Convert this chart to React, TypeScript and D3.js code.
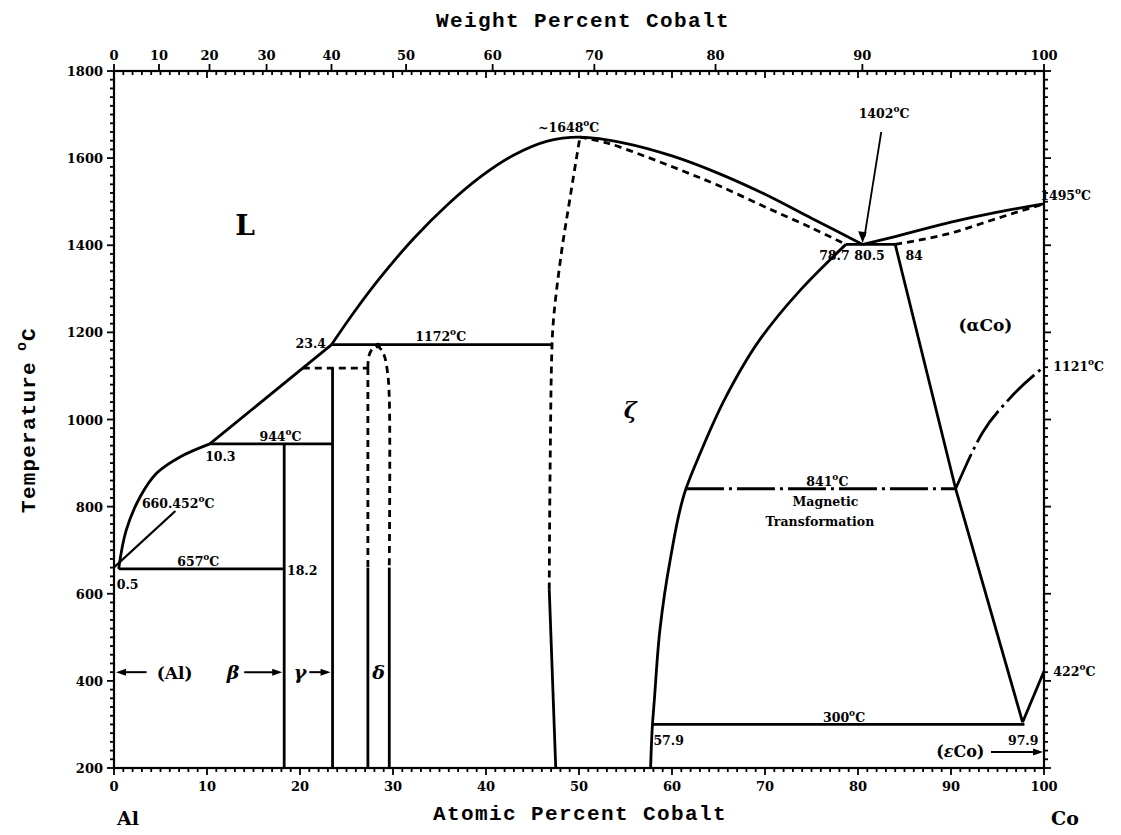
import React from "react";
import * as d3 from "d3";

// Al–Co phase diagram: temperature (°C) vs. atomic percent cobalt
type Pt = [number, number];

const atTicks = [0, 10, 20, 30, 40, 50, 60, 70, 80, 90, 100];
const wtTicks = [0, 10, 20, 30, 40, 50, 60, 70, 80, 90, 100];
const tempTicks = [200, 400, 600, 800, 1000, 1200, 1400, 1600, 1800];

// liquidus, Al-rich side
const liquidusAl: Pt[] = [[0.5, 657], [1.3, 745], [2.8, 822], [4.6, 877], [7.1, 914], [10.3, 944]];
const liquidusMid: Pt[] = [[10.3, 944], [23.4, 1172]];
// liquidus over the ζ (AlCo) maximum
const liquidusZeta: Pt[] = [[23.4, 1172], [25.9, 1249], [28.6, 1325], [32.2, 1415], [35.8, 1492], [39.4, 1557], [42.9, 1606], [46.6, 1639], [50.1, 1648], [55, 1634], [60, 1605], [65, 1565], [70, 1517], [75, 1462], [80.5, 1402]];
const solidusZetaRight: Pt[] = [[50.1, 1648], [53, 1635], [57, 1605], [61, 1572], [65, 1537], [70, 1488], [75, 1440], [78.7, 1402]];
const liquidusCo: Pt[] = [[80.5, 1402], [84, 1420], [90, 1453], [95, 1476], [100, 1495]];
const solidusCo: Pt[] = [[84, 1402], [90, 1428], [95, 1462], [100, 1495]];

// ζ (AlCo) phase boundaries
const zetaLeftDashed: Pt[] = [[50.1, 1648], [49.0, 1504], [48.0, 1366], [47.1, 1172], [46.9, 900], [46.8, 610]];
const zetaLeftSolid: Pt[] = [[46.8, 610], [47.5, 200]];
const zetaRight: Pt[] = [[78.7, 1402], [73.8, 1297], [69.5, 1185], [65.7, 1048], [63.0, 921], [61.5, 841], [59.8, 677], [58.7, 517], [58.1, 356], [57.9, 300], [57.7, 200]];

// (αCo) / (εCo) boundaries and Curie line
const alphaCoBoundary: Pt[] = [[84, 1402], [90.5, 841], [97.7, 305]];
const epsilonBoundary: Pt[] = [[97.7, 305], [100, 422]];
const curieLine: Pt[] = [[90.5, 841], [93.4, 970], [96.3, 1048], [100, 1121]];

// δ phase dome
const deltaDome: Pt[] = [[27.3, 1118], [27.4, 1145], [27.8, 1162], [28.4, 1167], [29.0, 1150], [29.4, 1110], [29.6, 1050], [29.6, 660]];
const deltaLeftDashed: Pt[] = [[27.3, 1118], [27.3, 660]];

// isotherms [xStart, xEnd, T]
const solidIsotherms: [number, number, number][] = [
  [0.5, 18.3, 657],
  [10.3, 23.5, 944],
  [23.4, 47.1, 1172],
  [78.7, 84, 1402],
  [57.9, 97.9, 300],
];
const dashedIsotherms: [number, number, number][] = [[20.3, 27.3, 1118]];
const magneticIsotherm: [number, number, number][] = [[61.5, 90.5, 841]];

// compound lines [x, Ttop, Tbottom]
const verticals: [number, number, number][] = [
  [18.3, 944, 200],
  [23.5, 1118, 200],
  [27.3, 660, 200],
  [29.6, 660, 200],
];

// temperature labels with degree mark [value, x, T, anchor]
const degLabels: [string, number, number, string][] = [
  ["944", 17.9, 950, "middle"],
  ["660.452", 3.0, 797, "start"],
  ["657", 6.8, 664, "start"],
  ["1172", 32.4, 1181, "start"],
  ["~1648", 45.6, 1660, "start"],
  ["1402", 82.8, 1692, "middle"],
  ["1495", 99.6, 1504, "start"],
  ["1121", 101.0, 1111, "start"],
  ["422", 101.0, 411, "start"],
  ["841", 76.7, 847, "middle"],
  ["300", 78.5, 305, "middle"],
];

// composition labels [text, x, T, anchor]
const compLabels: [string, number, number, string][] = [
  ["10.3", 9.8, 904, "start"],
  ["0.5", 0.3, 611, "start"],
  ["18.2", 18.6, 643, "start"],
  ["23.4", 22.8, 1163, "end"],
  ["78.7", 79.1, 1366, "end"],
  ["80.5", 79.6, 1366, "start"],
  ["84", 85.1, 1366, "start"],
  ["57.9", 58.0, 252, "start"],
  ["97.9", 99.4, 252, "end"],
];

const W = 1121;
const H = 835;
const x = d3.scaleLinear().domain([0, 100]).range([114, 1044]);
const y = d3.scaleLinear().domain([200, 1800]).range([768, 71]);

const AL = 26.982;
const CO = 58.933;
const wtToAt = (w: number) => {
  if (w <= 0) return 0;
  if (w >= 100) return 100;
  const a = w / CO;
  const b = (100 - w) / AL;
  return (100 * a) / (a + b);
};

const lineWith = (curve: d3.CurveFactory) =>
  d3
    .line<Pt>()
    .x((d) => x(d[0]))
    .y((d) => y(d[1]))
    .curve(curve);
const smoothX = lineWith(d3.curveMonotoneX);
const smoothY = lineWith(d3.curveMonotoneY);
const smooth = lineWith(d3.curveCatmullRom.alpha(0.5));
const straight = lineWith(d3.curveLinear);

const numFont = "'DejaVu Serif', serif";
const titleFont = "'Liberation Mono', 'DejaVu Sans Mono', monospace";
const LW = 2.8;
const DASH = "7,5";
const DASHDOT = "38,5,3,5";

function Deg({ v, px, py, anchor }: { v: string; px: number; py: number; anchor: string }) {
  return (
    <text x={px} y={py} textAnchor={anchor as any} fontFamily={numFont} fontWeight="bold" fontSize={12.5}>
      {v}
      <tspan dy={-6} fontSize={9}>o</tspan>
      <tspan dy={6}>C</tspan>
    </text>
  );
}

function Arrow({ x1, x2, py }: { x1: number; x2: number; py: number }) {
  // arrowhead at x2
  const dir = x2 > x1 ? 1 : -1;
  return (
    <g>
      <line x1={x1} y1={py} x2={x2 - dir * 6} y2={py} stroke="#000" strokeWidth={2} />
      <path d={`M${x2},${py} L${x2 - dir * 10},${py - 3.5} L${x2 - dir * 10},${py + 3.5} Z`} fill="#000" />
    </g>
  );
}

export default function App() {
  const xMinor = d3.range(0, 101, 1);
  const tMinor = d3.range(200, 1801, 20);
  const x0 = x(0);
  const x1 = x(100);
  const yTop = y(1800);
  const yBot = y(200);
  const arrowY = y(420);

  // ζ right boundary and dashed ζ left boundary run downward: order by temperature
  const zetaRightAsc = [...zetaRight].sort((a, b) => a[1] - b[1]);
  const zetaLeftAsc = [...zetaLeftDashed].sort((a, b) => a[1] - b[1]);

  return (
    <svg
      width={W}
      height={H}
      viewBox={`0 0 ${W} ${H}`}
      style={{ position: "absolute", left: 0, top: 0, background: "#fff" }}
    >
      <rect width={W} height={H} fill="#fff" />

      {/* frame */}
      <rect x={x0} y={yTop} width={x1 - x0} height={yBot - yTop} fill="none" stroke="#000" strokeWidth={2.2} />

      {/* bottom axis: atomic percent */}
      {xMinor.map((v) => (
        <line key={"bm" + v} x1={x(v)} x2={x(v)} y1={yBot} y2={yBot + (v % 10 === 0 ? 7 : 4)} stroke="#000" strokeWidth={1.8} />
      ))}
      {atTicks.map((v) => (
        <text key={"bl" + v} x={x(v)} y={yBot + 23} textAnchor="middle" fontFamily={numFont} fontWeight="bold" fontSize={13}>
          {v}
        </text>
      ))}

      {/* top axis: atomic ticks inward, weight percent labels */}
      {xMinor.map((v) => (
        <line key={"tm" + v} x1={x(v)} x2={x(v)} y1={yTop} y2={yTop + (v % 10 === 0 ? 7 : 4)} stroke="#000" strokeWidth={1.8} />
      ))}
      {wtTicks.map((v) => (
        <g key={"tw" + v}>
          <line x1={x(wtToAt(v))} x2={x(wtToAt(v))} y1={yTop} y2={yTop - 7} stroke="#000" strokeWidth={1.8} />
          <text x={x(wtToAt(v))} y={yTop - 11} textAnchor="middle" fontFamily={numFont} fontWeight="bold" fontSize={13}>
            {v}
          </text>
        </g>
      ))}

      {/* left and right temperature axes */}
      {tMinor.map((t) => (
        <g key={"ym" + t}>
          <line x1={x0} x2={x0 - (t % 200 === 0 ? 7 : 4)} y1={y(t)} y2={y(t)} stroke="#000" strokeWidth={1.8} />
          <line x1={x1} x2={x1 + (t % 200 === 0 ? 7 : 4)} y1={y(t)} y2={y(t)} stroke="#000" strokeWidth={1.8} />
        </g>
      ))}
      {tempTicks.map((t) => (
        <text key={"yl" + t} x={x0 - 11} y={y(t) + 5} textAnchor="end" fontFamily={numFont} fontWeight="bold" fontSize={13}>
          {t}
        </text>
      ))}

      {/* axis titles */}
      <text x={583} y={27} textAnchor="middle" fontFamily={titleFont} fontWeight="bold" fontSize={21} letterSpacing={1.4}>
        Weight Percent Cobalt
      </text>
      <text x={580} y={820} textAnchor="middle" fontFamily={titleFont} fontWeight="bold" fontSize={21} letterSpacing={1.4}>
        Atomic Percent Cobalt
      </text>
      <text transform="translate(35,420) rotate(-90)" textAnchor="middle" fontFamily={titleFont} fontWeight="bold" fontSize={21} letterSpacing={1.2}>
        Temperature
        <tspan dx={10} dy={-9} fontSize={15}>o</tspan>
        <tspan dy={9}>C</tspan>
      </text>
      <text x={128} y={825} textAnchor="middle" fontFamily={numFont} fontWeight="bold" fontSize={19}>
        Al
      </text>
      <text x={1065} y={825} textAnchor="middle" fontFamily={numFont} fontWeight="bold" fontSize={19}>
        Co
      </text>

      {/* solid boundaries */}
      <g fill="none" stroke="#000" strokeWidth={LW} strokeLinejoin="round">
        <path d={smooth(liquidusAl) || ""} />
        <path d={straight(liquidusMid) || ""} />
        <path d={smooth(liquidusZeta) || ""} />
        <path d={smoothX(liquidusCo) || ""} />
        <path d={straight(zetaLeftSolid) || ""} />
        <path d={smoothY(zetaRightAsc) || ""} />
        <path d={straight(alphaCoBoundary) || ""} />
        <path d={straight(epsilonBoundary) || ""} />
        {solidIsotherms.map(([a, b, t], i) => (
          <line key={"si" + i} x1={x(a)} x2={x(b)} y1={y(t)} y2={y(t)} />
        ))}
        {verticals.map(([v, t1, t2], i) => (
          <line key={"v" + i} x1={x(v)} x2={x(v)} y1={y(t1)} y2={y(t2)} />
        ))}
        {/* leader from Al melting point label */}
        <line x1={x(0)} y1={y(660.452)} x2={x(6.6)} y2={y(790)} strokeWidth={2.2} />
      </g>

      {/* dashed boundaries */}
      <g fill="none" stroke="#000" strokeWidth={LW} strokeDasharray={DASH}>
        <path d={smooth(solidusZetaRight) || ""} />
        <path d={smoothX(solidusCo) || ""} />
        <path d={smoothY(zetaLeftAsc) || ""} />
        <path d={smooth(deltaDome) || ""} />
        <path d={straight(deltaLeftDashed) || ""} />
        {dashedIsotherms.map(([a, b, t], i) => (
          <line key={"di" + i} x1={x(a)} x2={x(b)} y1={y(t)} y2={y(t)} />
        ))}
      </g>
      <circle cx={x(28.4)} cy={y(1170)} r={2.8} fill="#000" />

      {/* magnetic transformation lines */}
      <g fill="none" stroke="#000" strokeWidth={LW} strokeDasharray={DASHDOT}>
        {magneticIsotherm.map(([a, b, t], i) => (
          <line key={"mi" + i} x1={x(a)} x2={x(b)} y1={y(t)} y2={y(t)} />
        ))}
        <path d={smoothX(curieLine) || ""} />
      </g>

      {/* arrow to the 1402 °C eutectic */}
      <line x1={x(82.5)} y1={y(1660)} x2={x(80.7)} y2={y(1420)} stroke="#000" strokeWidth={1.8} />
      <path
        d={`M${x(80.5)},${y(1405)} L${x(80.5) - 4.5},${y(1432)} L${x(80.5) + 4},${y(1430)} Z`}
        fill="#000"
      />

      {/* degree labels */}
      {degLabels.map(([v, a, t, anc], i) => (
        <Deg key={"dl" + i} v={v} px={x(a)} py={y(t)} anchor={anc} />
      ))}

      {/* composition labels */}
      {compLabels.map(([v, a, t, anc], i) => (
        <text key={"cl" + i} x={x(a)} y={y(t)} textAnchor={anc as any} fontFamily={numFont} fontWeight="bold" fontSize={12.5}>
          {v}
        </text>
      ))}

      {/* magnetic transformation note */}
      <text x={x(76.5)} y={y(801)} textAnchor="middle" fontFamily={numFont} fontWeight="bold" fontSize={12.5}>
        Magnetic
      </text>
      <text x={x(75.9)} y={y(756)} textAnchor="middle" fontFamily={numFont} fontWeight="bold" fontSize={12.5}>
        Transformation
      </text>

      {/* phase labels */}
      <text x={x(14.1)} y={y(1424)} textAnchor="middle" fontFamily="'DejaVu Serif', serif" fontWeight="bold" fontSize={28}>
        L
      </text>
      <text x={x(55.5)} y={y(1003)} textAnchor="middle" fontFamily="'DejaVu Serif', serif" fontStyle="italic" fontWeight="bold" fontSize={22}>
        ζ
      </text>
      <text x={x(93.7)} y={y(1203)} textAnchor="middle" fontFamily={numFont} fontWeight="bold" fontSize={17}>
        (αCo)
      </text>
      <text x={x(91)} y={y(225)} textAnchor="middle" fontFamily={numFont} fontWeight="bold" fontSize={16}>
        (<tspan fontStyle="italic">ε</tspan>Co)
      </text>
      <Arrow x1={x(94.3)} x2={x(100) - 1} py={y(237)} />

      <text x={x(4.6)} y={arrowY + 7} fontFamily={numFont} fontWeight="bold" fontSize={17}>
        (Al)
      </text>
      <Arrow x1={x(3.5)} x2={x(0) + 2} py={arrowY} />

      <text x={x(12.8)} y={arrowY + 7} textAnchor="middle" fontFamily={numFont} fontStyle="italic" fontWeight="bold" fontSize={19}>
        β
      </text>
      <Arrow x1={x(14.0)} x2={x(18.3) - 2} py={arrowY} />

      <text x={x(20.0)} y={arrowY + 7} textAnchor="middle" fontFamily={numFont} fontStyle="italic" fontWeight="bold" fontSize={19}>
        γ
      </text>
      <Arrow x1={x(21.0)} x2={x(23.5) - 2} py={arrowY} />

      <text x={x(28.45)} y={arrowY + 7} textAnchor="middle" fontFamily={numFont} fontStyle="italic" fontWeight="bold" fontSize={19}>
        δ
      </text>
    </svg>
  );
}
